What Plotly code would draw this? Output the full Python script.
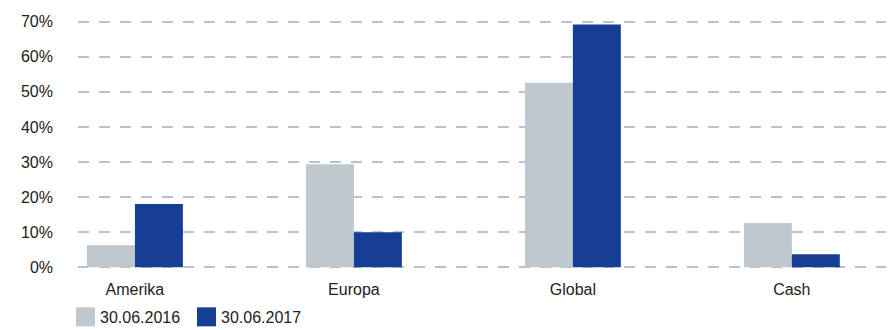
import plotly.graph_objects as go

categories = ["Amerika", "Europa", "Global", "Cash"]
values_2016 = [6.3, 29.4, 52.6, 12.6]
values_2017 = [18.0, 10.0, 69.2, 3.7]
series_names = ["30.06.2016", "30.06.2017"]
tick_vals = [0, 10, 20, 30, 40, 50, 60, 70]
tick_text = ["0%", "10%", "20%", "30%", "40%", "50%", "60%", "70%"]

colors = ["#bfc8ce", "#143f94"]
font_family = "Liberation Sans, Arial, sans-serif"

fig = go.Figure()
fig.add_trace(go.Bar(x=categories, y=values_2016, name=series_names[0],
                     marker=dict(color=colors[0], line=dict(width=0)), showlegend=False))
fig.add_trace(go.Bar(x=categories, y=values_2017, name=series_names[1],
                     marker=dict(color=colors[1], line=dict(width=0)), showlegend=False))

pad = 0.5  # small y padding so edge gridlines are drawn
top_px, bot_px = 22, 267
ppu = (bot_px - top_px) / 70.0
fig.update_layout(
    width=896, height=330,
    margin=dict(l=78, r=10, t=top_px - pad * ppu, b=330 - bot_px - pad * ppu),
    paper_bgcolor="white", plot_bgcolor="white",
    barmode="group", bargap=0.562, bargroupgap=0,
    font=dict(family=font_family, size=16, color="#222222"),
    xaxis=dict(type="category", range=[-0.26, 3.43], showgrid=False, zeroline=False,
               showline=False, ticks="", ticklabelstandoff=9,
               tickfont=dict(size=16, color="#222222")),
    yaxis=dict(range=[-pad, 70 + pad], tickvals=tick_vals, ticktext=tick_text,
               showgrid=True, gridcolor="#b7c3d3", gridwidth=2, griddash="11px,10px",
               zeroline=False, showline=False, ticks="", ticklabelstandoff=24,
               tickfont=dict(size=16, color="#222222")),
)

# legend drawn as swatches + text (paper coords from pixel layout)
pw = 808
ph = (bot_px - top_px) + 2 * pad * ppu
y0_px = bot_px + pad * ppu  # pixel y of paper y=0
legend_items = [(76, series_names[0]), (197, series_names[1])]
for (x0, name), col in zip(legend_items, colors):
    fig.add_shape(type="rect", xref="paper", yref="paper",
                  x0=(x0 - 78) / pw, x1=(x0 + 19 - 78) / pw,
                  y0=-(326 - y0_px) / ph, y1=-(307 - y0_px) / ph,
                  fillcolor=col, line=dict(width=0))
    fig.add_annotation(xref="paper", yref="paper", x=(x0 + 22 - 78) / pw,
                       y=-(317 - y0_px) / ph, xanchor="left", yanchor="middle",
                       text=name, showarrow=False,
                       font=dict(size=16, color="#222222"))

fig.write_html("out.html")
